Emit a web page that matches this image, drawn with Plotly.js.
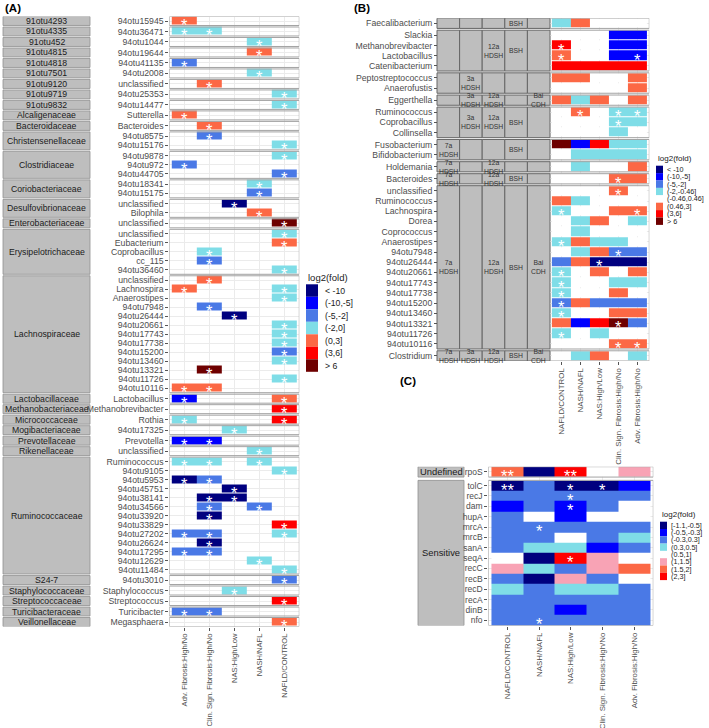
<!DOCTYPE html>
<html>
<head>
<meta charset="utf-8">
<script src="https://cdn.plot.ly/plotly-3.0.1.min.js"></script>
<style>
html,body{margin:0;padding:0;background:#ffffff;}
#chart{width:709px;height:728px;}
</style>
</head>
<body>
<div id="chart"></div>
<script>
const _ = null;

// ================= Panel A =================
const colsA = ["Adv. Fibrosis:High/No","Clin. Sign. Fibrosis:High/No","NAS:High/Low","NASH/NAFL","NAFLD/CONTROL"];
const binsA = ["< -10","(-10,-5]","(-5,-2]","(-2,0]","(0,3]","(3,6]","> 6"];
const colorsA = ["#00007F","#0000FF","#4A79E6","#7FDDE7","#FC6845","#FF0000","#6E0000"];
const familiesA = ["91otu4293","91otu4335","91otu452","91otu4815","91otu4818","91otu7501","91otu9120","91otu9719","91otu9832",
  "Alcaligenaceae","Bacteroidaceae","Christensenellaceae","Clostridiaceae","Coriobacteriaceae","Desulfovibrionaceae",
  "Enterobacteriaceae","Erysipelotrichaceae","Lachnospiraceae","Lactobacillaceae","Methanobacteriaceae","Micrococcaceae",
  "Mogibacteriaceae","Prevotellaceae","Rikenellaceae","Ruminococcaceae","S24-7","Staphylococcaceae","Streptococcaceae",
  "Turicibacteraceae","Veillonellaceae"];
const familySizesA = [1,1,1,1,1,1,1,1,1,1,1,2,3,2,2,1,5,13,1,1,1,1,1,1,13,1,1,1,1,1];
const rowsA = ["94otu15945","94otu36471","94otu1044","94otu19644","94otu41135","94otu2008","unclassified","94otu25353","94otu14477","Sutterella",
  "Bacteroides","94otu8575","94otu15176","94otu9878","94otu972","94otu44705","94otu18341","94otu15175","unclassified","Bilophila",
  "unclassified","unclassified","Eubacterium","Coprobacillus","cc_115","94otu36460","unclassified","Lachnospira","Anaerostipes","94otu7948",
  "94otu26444","94otu20661","94otu17743","94otu17738","94otu15200","94otu13460","94otu13321","94otu11726","94otu10116","Lactobacillus",
  "Methanobrevibacter","Rothia","94otu17325","Prevotella","unclassified","Ruminococcus","94otu9105","94otu5953","94otu45751","94otu38141",
  "94otu34566","94otu33920","94otu33829","94otu27202","94otu26624","94otu17295","94otu12629","94otu11484","94otu3010","Staphylococcus",
  "Streptococcus","Turicibacter","Megasphaera"];
// bin index (into binsA) per row; every coloured cell in panel A is significant (*)
const advFibA = [4,3,_,_,2,_,_,_,_,4, _,_,_,_,2,_,_,_,_,_, _,_,_,_,_,_,_,4,_,_, _,_,_,_,_,_,_,_,4,1, _,3,_,1,_,3,_,0,_,_, _,_,_,2,_,2,_,_,_,_, _,2,_];
const clinFibA = [_,3,_,_,_,_,4,_,_,_, 4,2,_,_,_,_,_,_,_,_, _,_,_,3,2,_,4,_,_,2, _,_,_,_,_,_,6,_,4,_, _,_,_,1,_,3,_,2,_,0, 2,0,_,2,0,2,_,_,_,_, _,2,_];
const nasA = [_,_,_,_,_,_,_,_,_,_, _,_,_,_,_,_,_,_,0,_, _,_,_,_,_,_,_,_,_,_, 0,_,_,_,_,_,_,_,_,_, _,_,3,_,_,_,_,_,0,0, _,_,_,_,_,_,_,_,_,3, _,_,_];
const nashA = [_,_,3,4,_,3,_,_,_,_, _,_,_,_,_,_,3,2,_,4, _,_,_,_,_,_,_,_,_,_, _,_,_,_,_,_,_,_,_,_, _,_,_,_,3,3,_,_,_,_, 2,_,_,_,_,_,3,_,_,_, _,_,_];
const nafldA = [_,_,_,_,_,_,_,3,3,_, _,_,3,3,_,2,_,_,_,_, 6,3,4,_,_,3,_,3,3,_, _,3,3,3,2,3,_,3,_,4, 5,5,_,_,_,_,3,_,_,_, _,_,5,3,_,_,_,3,2,_, 5,_,4];

// ================= Panel B =================
const colsBC = ["NAFLD/CONTROL","NASH/NAFL","NAS:High/Low","Clin. Sign. Fibrosis:High/No","Adv. Fibrosis:High/No"];
const binsB = ["< -10","(-10,-5]","(-5,-2]","(-2,-0.46]","(-0.46,0.46]","(0.46,3]","(3,6]","> 6"];
const colorsB = ["#00007F","#0000FF","#4A79E6","#7FDDE7","#FFFFFF","#FC6845","#FF0000","#6E0000"];
const rowsB = ["Faecalibacterium","Slackia","Methanobrevibacter","Lactobacillus","Catenibacterium","Peptostreptococcus","Anaerofustis",
  "Eggerthella","Ruminococcus","Coprobacillus","Collinsella","Fusobacterium","Bifidobacterium","Holdemania","Bacteroides",
  "unclassified","Ruminococcus","Lachnospira","Dorea","Coprococcus","Anaerostipes","94otu7948","94otu26444","94otu20661",
  "94otu17743","94otu17738","94otu15200","94otu13460","94otu13321","94otu11726","94otu10116","Clostridium"];
const groupSizesB = [1,4,2,1,3,2,1,1,16,1];
const geneColsB = ["7a<br>HDSH","3a<br>HDSH","12a<br>HDSH","BSH","Bai<br>CDH"];
const gene7aB  = [0,0,0,0,0,1,1,1,1,1];
const gene3aB  = [0,0,1,1,1,0,0,0,0,1];
const gene12aB = [0,1,0,1,1,0,1,1,1,1];
const geneBshB = [1,1,0,0,1,1,0,1,1,1];
const geneBaiB = [0,0,0,1,0,0,0,0,1,1];
const nafldB = [3,4,6,5,6,5,4, 5,4,4,4, 7,4, 4, 4, 4,5,3,4,4,3,4,2,3,3,3,2,3,5,3,4, 4];
const nashB  = [5,4,4,4,6,5,4, 3,5,4,4, 1,3, 3, 4, 4,3,4,3,3,5,3,5,4,4,4,5,4,1,4,4, 3];
const nasB   = [4,4,4,4,6,4,4, 5,4,4,4, 6,3, 4, 4, 4,4,4,5,4,3,5,0,5,4,4,2,4,6,3,4, 5];
const clinB  = [4,1,1,1,6,4,4, 4,3,3,3, 3,3, 4, 5, 5,4,5,4,4,3,2,0,4,3,5,2,5,7,4,5, 4];
const advB   = [4,1,1,1,6,5,5, 5,3,3,4, 3,3, 5, 5, 4,4,5,3,4,4,2,0,5,3,4,2,5,2,4,5, 3];
// rows (indices into rowsB) marked significant
const starNafldB = [2,3,17,20,23,24,25,26,27,29];
const starNashB  = [8];
const starNasB   = [22];
const starClinB  = [8,9,14,15,21,28,30];
const starAdvB   = [3,8,17,30];

// ================= Panel C =================
const binsC = ["[-1.1,-0.5]","(-0.5,-0.3]","(-0.3,0.3]","(0.3,0.5]","(0.5,1]","(1,1.5]","(1.5,2]","(2,3]"];
const colorsC = ["#00007F","#0000FF","#4A79E6","#7FDDE7","#FFFFFF","#F8A3B5","#FC6845","#FF0000"];
const rowsC = ["rpoS","tolC","recJ","dam","hupA","mrcA","mrcB","sanA","seqA","recC","recB","recD","recA","dinB","nfo"];
const groupsC = ["Undefined","Sensitive"];
const groupSizesC = [1,14];
const nafldC = [6,0,2,1,2,2,2,2,4,5,2,3,2,2,2];
const nashC  = [0,2,2,2,4,2,2,3,0,3,0,2,2,2,2];
const nasC   = [7,0,2,1,1,2,4,3,7,2,5,3,2,1,2];
const clinC  = [4,0,2,2,4,2,2,1,5,5,2,3,2,2,2];
const advC   = [5,1,2,4,4,2,3,2,4,6,4,2,2,2,2];
const sigNafldC = ["**","**","","","","","","","","","","","","",""];
const sigNashC  = ["","","","","","*","","","","","","","","","*"];
const sigNasC   = ["**","*","*","*","","","","","*","","","","","",""];
const sigClinC  = ["","*","","","","","","","","","","","","",""];
const sigAdvC   = ["","","","","","","","","","","","","","",""];

// ================= helpers =================
const W = 709, H = 728;
const FONT = "Liberation Sans, Arial, Helvetica, sans-serif";
const px = v => v / W;
const py = v => 1 - v / H;

function expand(sizes){ const out=[]; sizes.forEach((s,i)=>{for(let k=0;k<s;k++) out.push(i);}); return out; }

function rowLayout(groupIdx, gapU){
  const pos=[], spans=[]; let y=0;
  groupIdx.forEach((g,i)=>{
    const newG = (i===0 || g!==groupIdx[i-1]);
    if(i>0 && newG) y+=gapU;
    pos.push(y);
    if(newG) spans.push({g, first:y, last:y}); else spans[spans.length-1].last=y;
    y+=1;
  });
  return {pos, spans};
}

function heat(xa, ya, columns, colors, lay, ygap){
  const K=colors.length, cs=[];
  colors.forEach((c,i)=>{cs.push([i/K,c]); cs.push([(i+1)/K,c]);});
  const yE=[], z=[], pos=lay.pos;
  for(let i=0;i<pos.length;i++){
    if(i>0 && pos[i]-pos[i-1]>1.0001){ yE.push(pos[i-1]+0.5); z.push(columns.map(()=>null)); }
    yE.push(pos[i]-0.5);
    z.push(columns.map(col=>col[i]));
  }
  yE.push(pos[pos.length-1]+0.5);
  return {type:'heatmap', xaxis:xa, yaxis:ya, x:[0,1,2,3,4], y:yE, z, zmin:-0.5, zmax:K-0.5,
          colorscale:cs, showscale:false, xgap:0, ygap:ygap, hoverinfo:'skip'};
}

function xAxis(d0,d1,labels,anchor,fs){
  return {domain:[px(d0),px(d1)], anchor, range:[-0.6,4.6], tickmode:'array', tickvals:[0,1,2,3,4], ticktext:labels,
    tickangle:-90, ticks:'outside', ticklen:3, tickwidth:1, tickcolor:'#555',
    tickfont:{family:FONT,size:fs,color:'#4d4d4d'}, showgrid:true, gridcolor:'#ebebeb', gridwidth:1,
    zeroline:false, showline:false, fixedrange:true};
}
function yAxis(top,bottom,lay,labels,anchor,position,fs){
  const ax = {domain:[py(bottom),py(top)], range:[lay.pos[lay.pos.length-1]+0.5,-0.5], tickmode:'array',
    tickvals:lay.pos, ticktext:labels, ticks:'outside', ticklen:3, tickwidth:1, tickcolor:'#555',
    tickfont:{family:FONT,size:fs||8.7,color:'#4d4d4d'}, showgrid:true, gridcolor:'#ebebeb', gridwidth:1,
    zeroline:false, showline:false, fixedrange:true};
  if(position!==null && position!==undefined){ ax.anchor='free'; ax.position=position; } else ax.anchor=anchor;
  return ax;
}

const traces=[], shapes=[], annotations=[];
const STAR = 16.5, STARSHIFT = -4;

function star(xa, ya, x, y, txt){
  annotations.push({xref:xa, yref:ya, x, y, xanchor:'center', yanchor:'middle', text:txt, showarrow:false, yshift:STARSHIFT,
    font:{family:FONT,size:STAR,color:'#ffffff'}});
}
function borders(xa, ya, spans, color){
  spans.forEach(s=>shapes.push({type:'rect', xref:xa, yref:ya, x0:-0.6, x1:4.6, y0:s.first-0.5, y1:s.last+0.5,
    line:{color, width:1}, fillcolor:'rgba(0,0,0,0)', layer:'above'}));
}
function legend(x, yTop, step, keyW, title, bins, colors, titleSize, labSize, labX){
  annotations.push({xref:'paper', yref:'paper', x:px(x), y:py(yTop-7), xanchor:'left', yanchor:'middle',
    text:title, showarrow:false, font:{family:FONT,size:titleSize,color:'#1a1a1a'}});
  bins.forEach((b,i)=>{
    shapes.push({type:'rect', xref:'paper', yref:'paper', x0:px(x), x1:px(x+keyW),
      y0:py(yTop+step*i), y1:py(yTop+step*(i+1)), line:{width:0}, fillcolor:colors[i]});
    annotations.push({xref:'paper', yref:'paper', x:px(labX), y:py(yTop+step*(i+0.5)), xanchor:'left', yanchor:'middle',
      text:b, showarrow:false, font:{family:FONT,size:labSize,color:'#1a1a1a'}});
  });
}

// ---------- build A ----------
const grpA = expand(familySizesA);
const layA = rowLayout(grpA, 1.5/9);
const colArrA = [advFibA, clinFibA, nasA, nashA, nafldA];
traces.push(heat('x','y',colArrA,colorsA,layA,1));
borders('x','y',layA.spans,'#a3a3a3');
colArrA.forEach((col,c)=>col.forEach((v,i)=>{ if(v!==null) star('x','y',c,layA.pos[i],'*'); }));
layA.spans.forEach(s=>{
  shapes.push({type:'rect', xref:'paper', yref:'y', x0:px(3), x1:px(90), y0:s.first-0.5, y1:s.last+0.5,
    line:{color:'#8f8f8f', width:0.8}, fillcolor:'#bebebe', layer:'below'});
  annotations.push({xref:'paper', yref:'y', x:px(46.5), y:(s.first+s.last)/2, xanchor:'center', yanchor:'middle',
    text:familiesA[s.g], showarrow:false, font:{family:FONT,size:8.7,color:'#1a1a1a'}});
});
legend(306, 284.3, 12.5, 12, 'log2(fold)', binsA, colorsA, 9.5, 8.7, 322.7);

// ---------- build B ----------
const grpB = expand(groupSizesB);
const layB = rowLayout(grpB, 1.8/10.2);
const colArrB = [nafldB, nashB, nasB, clinB, advB];
traces.push(heat('x2','y2',colArrB,colorsB,layB,1));
borders('x2','y2',layB.spans,'#a3a3a3');
[starNafldB, starNashB, starNasB, starClinB, starAdvB].forEach((lst,c)=>lst.forEach(i=>star('x2','y2',c,layB.pos[i],'*')));
const geneB = [gene7aB, gene3aB, gene12aB, geneBshB, geneBaiB];
const annL = 437, annW = 22.6;
layB.spans.forEach(s=>{
  geneB.forEach((g,c)=>{
    shapes.push({type:'rect', xref:'paper', yref:'y2', x0:px(annL+c*annW), x1:px(annL+(c+1)*annW),
      y0:s.first-0.5, y1:s.last+0.5, line:{color:'#666', width:1}, fillcolor:'#bebebe', layer:'below'});
    if(g[s.g]) annotations.push({xref:'paper', yref:'y2', x:px(annL+(c+0.5)*annW), y:(s.first+s.last)/2,
      xanchor:'center', yanchor:'middle', text:geneColsB[c], showarrow:false,
      font:{family:FONT,size:6.8,color:'#333'}});
  });
});
legend(656, 165.7, 7.4, 7, 'log2(fold)', binsB, colorsB, 8, 7.2, 664.5);

// ---------- build C ----------
const grpC = expand(groupSizesC);
const layC = rowLayout(grpC, 3.3/10.36);
const colArrC = [nafldC, nashC, nasC, clinC, advC];
traces.push(heat('x3','y3',colArrC,colorsC,layC,0));
borders('x3','y3',layC.spans,'#a3a3a3');
[sigNafldC, sigNashC, sigNasC, sigClinC, sigAdvC].forEach((lst,c)=>lst.forEach((t,i)=>{ if(t) star('x3','y3',c,layC.pos[i],t); }));
layC.spans.forEach(s=>{
  shapes.push({type:'rect', xref:'paper', yref:'y3', x0:px(418), x1:px(464), y0:s.first-0.5, y1:s.last+0.5,
    line:{color:'#8f8f8f', width:0.8}, fillcolor:'#bebebe', layer:'below'});
  annotations.push({xref:'paper', yref:'y3', x:px(441), y:(s.first+s.last)/2, xanchor:'center', yanchor:'middle',
    text:groupsC[s.g], showarrow:false, font:{family:FONT,size:9.4,color:'#1a1a1a'}});
});
legend(660, 521.7, 7.3, 7, 'log2(fold)', binsC, colorsC, 8, 7.2, 669);

// panel tags
[['(A)',3,8],['(B)',352,8],['(C)',398,381]].forEach(([t,x,y])=>annotations.push({xref:'paper', yref:'paper', x:px(x), y:py(y),
  xanchor:'left', yanchor:'middle', text:'<b>'+t+'</b>', showarrow:false, font:{family:FONT,size:11.5,color:'#000'}}));

const layout = {
  width:W, height:H, margin:{l:0,r:0,t:0,b:0}, paper_bgcolor:'#ffffff', plot_bgcolor:'#ffffff', showlegend:false,
  font:{family:FONT},
  xaxis: xAxis(169.3, 299.3, colsA, 'y', 7.6),
  yaxis: yAxis(16.5, 626.5, layA, rowsA, 'x'),
  xaxis2: xAxis(550, 649.3, colsBC, 'y2', 7.9),
  yaxis2: yAxis(18.2, 361, layB, rowsB, 'x2', px(437)),
  xaxis3: xAxis(488.3, 653.3, colsBC, 'y3', 7.9),
  yaxis3: yAxis(466.7, 625.5, layC, rowsC, 'x3', null, 8.5),
  shapes, annotations
};
Plotly.newPlot('chart', traces, layout, {staticPlot:true, displayModeBar:false});
</script>
</body>
</html>
